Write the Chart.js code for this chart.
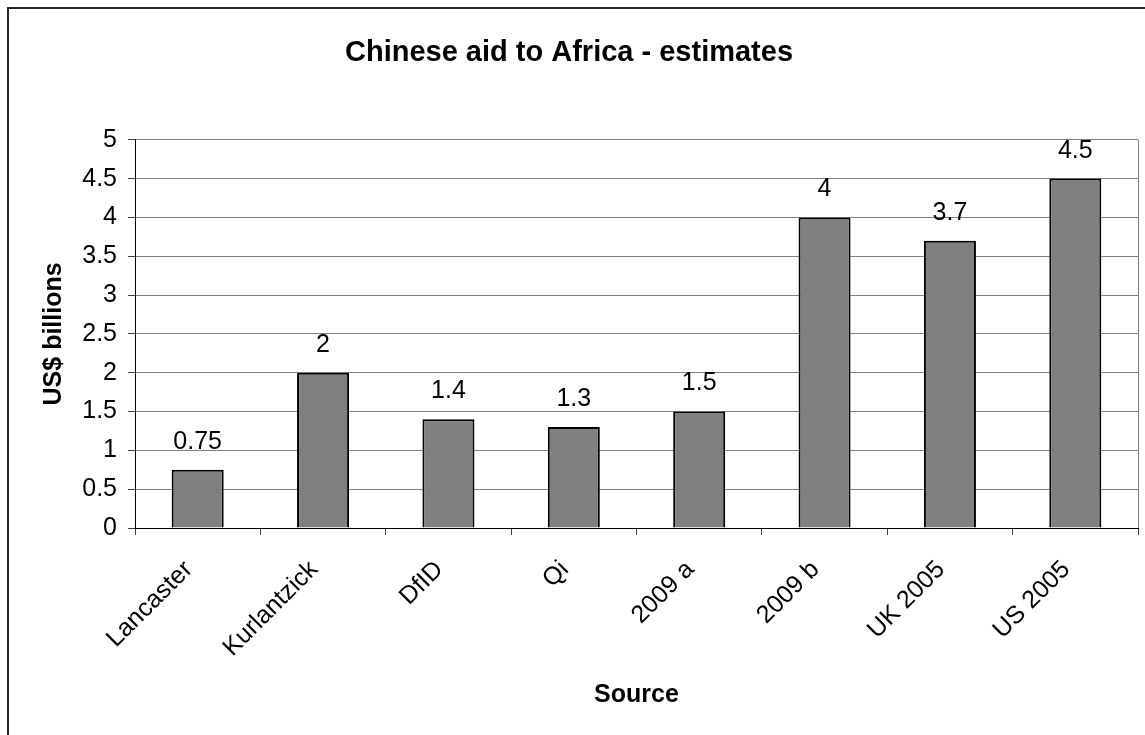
<!DOCTYPE html>
<html>
<head>
<meta charset="utf-8">
<script src="https://cdn.jsdelivr.net/npm/chart.js@4"></script>
<style>
  html, body { margin: 0; padding: 0; background: #fff; overflow: hidden; }
  #wrap { position: relative; width: 1145px; height: 735px; }
  #frame { position: absolute; left: 7px; top: 7px; width: 1300px; height: 900px;
           border: 2px solid #262626; pointer-events: none; }
</style>
</head>
<body>
<div id="wrap">
  <canvas id="chart" width="1145" height="735"></canvas>
  <div id="frame"></div>
</div>
<script>
// data
const sources = ["Lancaster", "Kurlantzick", "DfID", "Qi", "2009 a", "2009 b", "UK 2005", "US 2005"];
const estimates = [0.75, 2, 1.4, 1.3, 1.5, 4, 3.7, 4.5];
const yMin = 0, yMax = 5, yStep = 0.5;

const FONT = "'Liberation Sans', Arial, sans-serif";

// values above the bars
const barValues = {
  id: "barValues",
  afterDatasetsDraw(chart) {
    const ctx = chart.ctx;
    const meta = chart.getDatasetMeta(0);
    ctx.save();
    ctx.font = "25px " + FONT;
    ctx.fillStyle = "#000";
    ctx.textAlign = "center";
    ctx.textBaseline = "middle";
    meta.data.forEach((bar, i) => {
      ctx.fillText(String(estimates[i]), bar.x, bar.y - 28);
    });
    ctx.restore();
  }
};

new Chart(document.getElementById("chart"), {
  type: "bar",
  data: {
    labels: sources,
    datasets: [{
      data: estimates,
      backgroundColor: "#808080",
      borderColor: "#000",
      borderWidth: 2,
      barPercentage: 0.415,
      categoryPercentage: 1
    }]
  },
  options: {
    responsive: false,
    animation: false,
    layout: { padding: { left: 0, right: 7, top: 0, bottom: 0 } },
    plugins: {
      legend: { display: false },
      tooltip: { enabled: false },
      title: {
        display: true,
        text: "Chinese aid to Africa - estimates",
        color: "#000",
        font: { family: FONT, size: 29, weight: "bold" },
        padding: { top: 36, bottom: 69 }
      }
    },
    scales: {
      x: {
        grid: {
          offset: true,
          drawOnChartArea: true,
          color: (c) => c.type === "tick" ? "rgba(0,0,0,0)" : "#808080",
          tickColor: "#404040",
          tickLength: 7
        },
        border: { color: "#000", width: 1 },
        ticks: {
          color: "#000",
          font: { family: FONT, size: 25 },
          minRotation: 45,
          maxRotation: 45,
          padding: 20,
          labelOffset: -9,
          autoSkip: false
        },
        title: {
          display: true,
          text: "Source",
          color: "#000",
          font: { family: FONT, size: 25, weight: "bold" },
          padding: { top: 0, bottom: 25 }
        },
        afterFit: (s) => { s.height = 735 - 528; }
      },
      y: {
        min: yMin,
        max: yMax,
        grid: { color: "#808080", tickColor: "#404040", tickLength: 7 },
        border: { color: "#000", width: 1 },
        ticks: {
          stepSize: yStep,
          color: "#000",
          font: { family: FONT, size: 25 },
          padding: 11,
          callback: (v) => String(v)
        },
        title: {
          display: true,
          text: "US$ billions",
          color: "#000",
          font: { family: FONT, size: 25, weight: "bold" },
          padding: { top: 39, bottom: 0 }
        },
        afterFit: (s) => { s.width = 135; }
      }
    }
  },
  plugins: [barValues]
});
</script>
</body>
</html>
